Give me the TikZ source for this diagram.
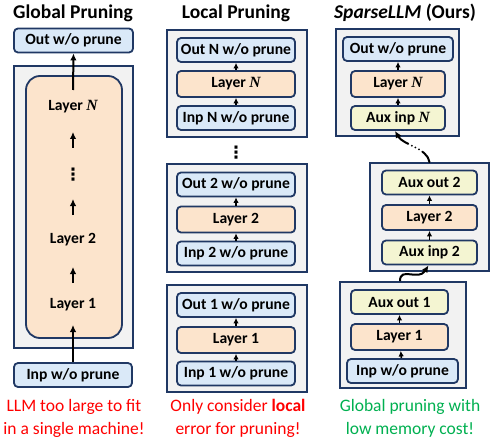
\documentclass[tikz,border=0pt]{standalone}
\usepackage{fontspec}
\setmainfont{Carlito}
\newfontfamily\serifN{Liberation Serif}
\newfontfamily\dotfont{DejaVu Sans}
\usetikzlibrary{arrows.meta}

\definecolor{navy}{HTML}{203864}
\definecolor{boxblue}{HTML}{DAE9F8}
\definecolor{boxorange}{HTML}{FCE4CC}
\definecolor{boxyellow}{HTML}{F4F5D2}
\definecolor{boxgray}{HTML}{F2F2F2}
\definecolor{okgreen}{HTML}{00B050}

\newcommand{\layN}{{\serifN\bfseries\itshape N}}

\begin{document}
\begin{tikzpicture}[x=1pt,y=-1pt,
  blk/.style={draw=navy,line width=1.8pt,rounded corners=4pt,inner sep=0pt,
    minimum height=24pt,font=\fontsize{15.6}{17}\selectfont\bfseries},
  inp/.style={blk,fill=boxblue},
  lay/.style={blk,fill=boxorange,minimum height=26pt},
  aux/.style={blk,fill=boxyellow},
  grp/.style={draw=navy,line width=1.8pt,fill=boxgray,inner sep=0pt},
  lbl/.style={font=\fontsize{15.6}{17}\selectfont\bfseries},
  vdot/.style={font=\dotfont\bfseries\fontsize{17}{17}\selectfont,inner sep=0pt},
  title/.style={font=\fontsize{19.5}{22}\selectfont\bfseries},
  note/.style={font=\fontsize{17.5}{23}\selectfont,align=center},
  arr/.style={-{Latex[length=7pt,width=6.5pt]},line width=2pt},
  sarr/.style={-{Latex[length=5.5pt,width=5.5pt]},line width=1.6pt}]
\useasboundingbox (0,0) rectangle (490,441);

% global pruning
\node[title] (gT) at (73,13) {Global Pruning};
\node[inp,minimum width=119pt] (gOut) at (73.5,40.5) {Out w/o prune};
\node[grp,minimum width=119pt,minimum height=282pt] (gGrp) at (73.5,207) {};
\node[draw=navy,line width=1.8pt,fill=boxorange,rounded corners=14pt,
  minimum width=96pt,minimum height=262pt] (gBody) at (74,207) {};
\node[lbl] (gLN) at (73,107) {Layer \layN};
\node[vdot] (gDots) at (73,175) {⋮};
\node[lbl] (gL2) at (73,240) {Layer 2};
\node[lbl] (gL1) at (73,305) {Layer 1};
\node[inp,minimum width=118pt] (gInp) at (73,375) {Inp w/o prune};
\draw[arr] (gInp.north) -- ([yshift=-20pt]gL1.center);
\draw[arr] ([yshift=22pt]gL1.center) -- ([yshift=-27pt]gL2.center);
\draw[arr] ([yshift=25pt]gL2.center) -- ([yshift=-24pt]gDots.center);
\draw[arr] ([yshift=27pt]gDots.center) -- ([yshift=-25pt]gLN.center);
\draw[arr] ([yshift=17pt]gLN.center) -- (gOut.south);
\node[note,text=red] (gNote) at (74,418) {LLM too large to fit\\in a single machine!};

% local pruning
\node[title] (lT) at (236,13) {Local Pruning};
\node[grp,minimum width=140pt,minimum height=107pt] (lGrpN) at (237,83.5) {};
\node[inp,minimum width=118pt] (lOutN) at (236,50) {Out N w/o prune};
\node[lay,minimum width=118pt] (lLN) at (236,84) {Layer \layN};
\node[inp,minimum width=118pt] (lInpN) at (236,118) {Inp N w/o prune};
\draw[sarr] (lInpN) -- (lLN);
\draw[sarr] (lLN) -- (lOutN);

\node[vdot] (lDots) at (236,153) {⋮};

\node[grp,minimum width=140pt,minimum height=108pt] (lGrp2) at (237,218) {};
\node[inp,minimum width=118pt] (lOut2) at (236,184.5) {Out 2 w/o prune};
\node[lay,minimum width=118pt] (lL2) at (236,219.5) {Layer 2};
\node[inp,minimum width=118pt] (lInp2) at (236,253.5) {Inp 2 w/o prune};
\draw[sarr] (lInp2) -- (lL2);
\draw[sarr] (lL2) -- (lOut2);

\node[grp,minimum width=140pt,minimum height=107pt] (lGrp1) at (237,338.5) {};
\node[inp,minimum width=118pt] (lOut1) at (236,305) {Out 1 w/o prune};
\node[lay,minimum width=118pt] (lL1) at (236,340) {Layer 1};
\node[inp,minimum width=118pt] (lInp1) at (236,373.5) {Inp 1 w/o prune};
\draw[sarr] (lInp1) -- (lL1);
\draw[sarr] (lL1) -- (lOut1);
\node[note,text=red] (lNote) at (238,418) {Only consider \textbf{local}\\error for pruning!};

% sparsellm
\node[title] (sT) at (405,13) {\textit{SparseLLM} (Ours)};
\node[grp,minimum width=123pt,minimum height=107pt] (sGrpN) at (397.5,82.5) {};
\node[inp,minimum width=110pt] (sOutN) at (398,49) {Out w/o prune};
\node[lay,minimum width=94pt] (sLN) at (398,84) {Layer \layN};
\node[aux,minimum width=94pt] (sInpN) at (398,118) {Aux inp \layN};
\draw[sarr] (sInpN) -- (sLN);
\draw[sarr] (sLN) -- (sOutN);

\node[grp,minimum width=119pt,minimum height=108pt] (sGrp2) at (429.5,217) {};
\node[aux,minimum width=95pt] (sOut2) at (429.5,182.5) {Aux out 2};
\node[lay,minimum width=95pt,minimum height=25pt] (sL2) at (429.5,217.5) {Layer 2};
\node[aux,minimum width=95pt] (sInp2) at (429.5,252.5) {Aux inp 2};
\draw[sarr] (sInp2) -- (sL2);
\draw[sarr] (sL2) -- (sOut2);

\node[grp,minimum width=126pt,minimum height=106pt] (sGrp1) at (403,335) {};
\node[aux,minimum width=97pt] (sOut1) at (399.5,302) {Aux out 1};
\node[lay,minimum width=97pt] (sL1) at (399.5,337) {Layer 1};
\node[inp,minimum width=111pt] (sInp1) at (402.5,371) {Inp w/o prune};
\draw[sarr] (sInp1) -- (sL1);
\draw[sarr] (sL1) -- (sOut1);

\draw[arr] ([xshift=-3pt]sGrp1.north) .. controls +(0,-15) and +(-10,16) .. ([xshift=-1pt]sInp2.south);
\draw[arr,line cap=round,dash pattern=on 13pt off 4pt on 0pt off 4pt on 0pt off 4pt on 0pt off 4pt on 40pt]
  (sGrp2.north) .. controls +(-2,-14) and +(8,14) .. ([xshift=-3pt]sInpN.south);
\node[note,text=okgreen] (sNote) at (410,418) {Global pruning with\\low memory cost!};
\end{tikzpicture}
\end{document}
